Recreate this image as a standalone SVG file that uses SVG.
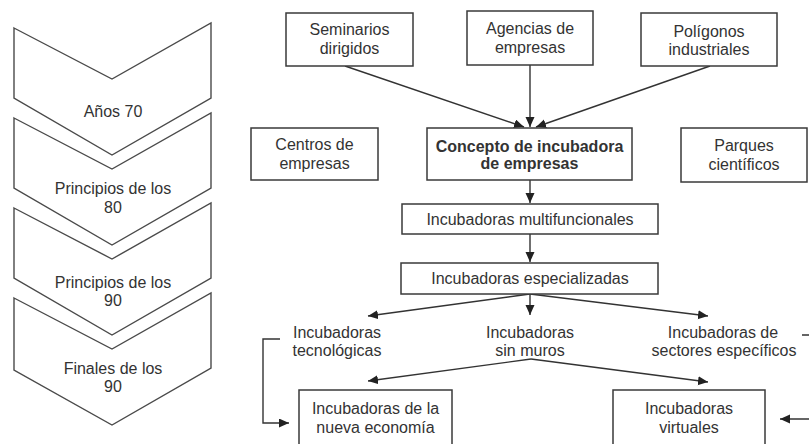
<svg xmlns="http://www.w3.org/2000/svg" width="809" height="444" viewBox="0 0 809 444">
<style>
text{font-family:"Liberation Sans",Arial,sans-serif;font-size:16px;fill:#333;text-anchor:middle}
.b{font-weight:bold}
.box{fill:#fff;stroke:#3a3a3a;stroke-width:1.5}
.chev{fill:#fff;stroke:#4a4a4a;stroke-width:1.4}
.ln{fill:none;stroke:#333;stroke-width:1.4}
</style>
<defs>
<marker id="ah" markerUnits="userSpaceOnUse" markerWidth="11" markerHeight="10" refX="10" refY="4.5" orient="auto">
<path d="M0,0 L10,4.5 L0,9 z" fill="#222"/>
</marker>
</defs>
<rect width="809" height="444" fill="#fff"/>
<g id="chevrons">
<g id="ch1"><path class="chev" d="M14,28 L112,79 L211,23 L211,98 L112,155 L14,98 Z"/><text x="113" y="116.5">Años 70</text></g>
<g id="ch2"><path class="chev" d="M14,118 L112,169 L211,113 L211,188 L112,245 L14,188 Z"/><text x="113" y="193.5">Principios de los</text><text x="113" y="212.5">80</text></g>
<g id="ch3"><path class="chev" d="M14,208 L112,259 L211,203 L211,278 L112,335 L14,278 Z"/><text x="113" y="287.5">Principios de los</text><text x="113" y="306">90</text></g>
<g id="ch4"><path class="chev" d="M14,298 L112,349 L211,293 L211,368 L112,425 L14,370 Z"/><text x="113" y="373.5">Finales de los</text><text x="113" y="391.5">90</text></g>
</g>
<g id="connectors">
<line class="ln" x1="345" y1="66" x2="524" y2="127" marker-end="url(#ah)"/>
<line class="ln" x1="530" y1="65" x2="530" y2="127" marker-end="url(#ah)"/>
<line class="ln" x1="710" y1="66" x2="536" y2="127" marker-end="url(#ah)"/>
<line class="ln" x1="530" y1="180" x2="530" y2="203" marker-end="url(#ah)"/>
<line class="ln" x1="530" y1="234" x2="530" y2="262" marker-end="url(#ah)"/>
<line class="ln" x1="530" y1="294" x2="368" y2="316" marker-end="url(#ah)"/>
<line class="ln" x1="530" y1="294" x2="530" y2="315" marker-end="url(#ah)"/>
<line class="ln" x1="530" y1="294" x2="708" y2="316" marker-end="url(#ah)"/>
<line class="ln" x1="531" y1="359" x2="368" y2="381" marker-end="url(#ah)"/>
<line class="ln" x1="531" y1="359" x2="708" y2="382" marker-end="url(#ah)"/>
<path class="ln" d="M280,339 H263 V423 H289" marker-end="url(#ah)"/>
<path class="ln" d="M802,335 H822 V419 H780" marker-end="url(#ah)"/>
</g>
<g id="seminarios"><rect class="box" x="286" y="13" width="127" height="53"/><text x="349.5" y="35">Seminarios</text><text x="349.5" y="54">dirigidos</text></g>
<g id="agencias"><rect class="box" x="467" y="11" width="126" height="54"/><text x="530" y="34">Agencias de</text><text x="530" y="53">empresas</text></g>
<g id="poligonos"><rect class="box" x="641" y="13" width="136" height="53"/><text x="709" y="36.5">Polígonos</text><text x="709" y="55">industriales</text></g>
<g id="centros"><rect class="box" x="251" y="128" width="127" height="52"/><text x="314.5" y="150">Centros de</text><text x="314.5" y="169">empresas</text></g>
<g id="concepto"><rect class="box" x="427" y="128" width="205" height="52"/><text class="b" x="529.5" y="151.5">Concepto de incubadora</text><text class="b" x="529.5" y="169">de empresas</text></g>
<g id="parques"><rect class="box" x="681" y="128" width="126" height="54"/><text x="744" y="150.5">Parques</text><text x="744" y="170">científicos</text></g>
<g id="multifuncionales"><rect class="box" x="402" y="204" width="256" height="30"/><text x="530" y="224.5">Incubadoras multifuncionales</text></g>
<g id="especializadas"><rect class="box" x="401" y="263" width="257" height="31"/><text x="530" y="284">Incubadoras especializadas</text></g>
<g id="tecnologicas"><text x="337" y="337.5">Incubadoras</text><text x="337" y="355.5">tecnológicas</text></g>
<g id="sinmuros"><text x="530" y="337.5">Incubadoras</text><text x="530" y="355.5">sin muros</text></g>
<g id="sectores"><text x="723" y="337.5">Incubadoras de</text><text x="724" y="355.5">sectores específicos</text></g>
<g id="nuevaeconomia"><rect class="box" x="299" y="390" width="153" height="60"/><text x="375.5" y="413.5">Incubadoras de la</text><text x="375.5" y="432.5">nueva economía</text></g>
<g id="virtuales"><rect class="box" x="613" y="390" width="152" height="60"/><text x="689" y="413.5">Incubadoras</text><text x="689" y="432.5">virtuales</text></g>
</svg>
